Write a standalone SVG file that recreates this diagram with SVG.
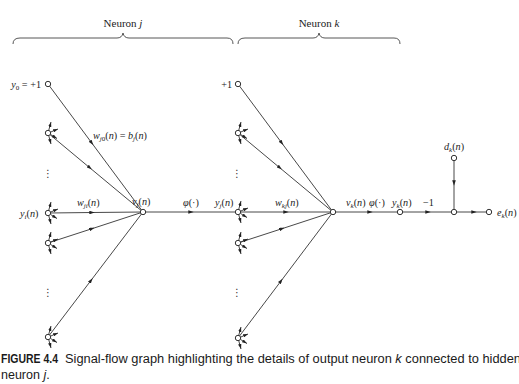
<svg xmlns="http://www.w3.org/2000/svg" width="519" height="384" viewBox="0 0 519 384">
<style>
.t{font-family:"Liberation Serif","Times New Roman",serif;font-size:11px;fill:#222}
.m{font-family:"Liberation Serif","Times New Roman",serif;font-size:10.2px;fill:#222}
.i{font-style:italic}
.s{font-size:7px}
.c{stroke:#333;stroke-width:0.9;fill:none}
.n{fill:#fff;stroke:#333;stroke-width:1}
.b{stroke:#444;stroke-width:0.9;fill:none}
.cap{font-family:"Liberation Sans",Arial,sans-serif;font-size:12.5px;fill:#1a1a1a}
.dots{font-family:"DejaVu Sans",sans-serif;font-size:10px;fill:#333}
</style>
<defs>
<marker id="a" viewBox="0 0 6 4" refX="3" refY="2" markerWidth="5.5" markerHeight="3.6" markerUnits="userSpaceOnUse" orient="auto"><path d="M0,0 L6,2 L0,4 z" fill="#222"/></marker>
<marker id="e" viewBox="0 0 6 4" refX="6" refY="2" markerWidth="5" markerHeight="3.4" markerUnits="userSpaceOnUse" orient="auto"><path d="M0,0 L6,2 L0,4 z" fill="#222"/></marker>
<g id="fan">
<path class="c" marker-end="url(#e)" d="M0.8,-2.9 L3,-11"/>
<path class="c" marker-end="url(#e)" d="M2.8,-1 L10,-4"/>
<path class="c" marker-end="url(#e)" d="M2.6,1.5 L9,5.5"/>
<path class="c" marker-end="url(#e)" d="M0.8,2.9 L3,11"/>
</g>
</defs>

<g id="braces">
<path class="b" d="M13,44 Q13,38 20,38 L117,38 Q122,38 123,33 Q124,38 129,38 L227,38 Q233,38 233,44"/>
<path class="b" d="M238,44 Q238,38 245,38 L313,38 Q318,38 319,33 Q320,38 325,38 L394,38 Q400,38 400,44"/>
<text class="t" x="123" y="27" text-anchor="middle">Neuron <tspan class="i">j</tspan></text>
<text class="t" x="319" y="27" text-anchor="middle">Neuron <tspan class="i">k</tspan></text>
</g>

<g id="connectors">
<path class="c" marker-mid="url(#a)" d="M48,84 L91.7,142.9 L143,212"/>
<path class="c" marker-mid="url(#a)" d="M48,133 L89.8,167.8 L143,212"/>
<path class="c" marker-mid="url(#a)" d="M48,213 L92,212.5 L143,212"/>
<path class="c" marker-mid="url(#a)" d="M48,243 L92,228.7 L143,212"/>
<path class="c" marker-mid="url(#a)" d="M48,337 L91,280.4 L143,212"/>
<path class="c" marker-mid="url(#a)" d="M143,212 L191,212 L238,212"/>
<path class="c" marker-mid="url(#a)" d="M238,84 L281.7,142.9 L333,212"/>
<path class="c" marker-mid="url(#a)" d="M238,133 L279.8,167.8 L333,212"/>
<path class="c" marker-mid="url(#a)" d="M238,212 L286,212 L333,212"/>
<path class="c" marker-mid="url(#a)" d="M238,243 L282,228.7 L333,212"/>
<path class="c" marker-mid="url(#a)" d="M238,338 L281,281 L333,212"/>
<path class="c" marker-mid="url(#a)" d="M333,212 L370,212 L400,212"/>
<path class="c" marker-mid="url(#a)" d="M400,212 L428,212 L454,212"/>
<path class="c" marker-mid="url(#a)" d="M454,212 L474,212 L489,212"/>
<path class="c" marker-mid="url(#a)" d="M454,158 L454,183 L454,212"/>
<use href="#fan" x="48" y="133"/>
<use href="#fan" x="48" y="213"/>
<use href="#fan" x="48" y="243"/>
<use href="#fan" x="48" y="337"/>
<use href="#fan" x="238" y="133"/>
<use href="#fan" x="238" y="212"/>
<use href="#fan" x="238" y="243"/>
<use href="#fan" x="238" y="338"/>
</g>

<g id="node-y0"><circle class="n" cx="48" cy="84" r="2.7"/>
<text class="m" x="41" y="88" text-anchor="end"><tspan class="i">y</tspan><tspan class="s" dy="2">0</tspan><tspan dy="-2"> = +1</tspan></text></g>
<g id="node-j2"><circle class="n" cx="48" cy="133" r="2.7"/></g>
<g id="dots-j1"><text class="dots" x="48" y="177" text-anchor="middle">⋮</text></g>
<g id="node-yi"><circle class="n" cx="48" cy="213" r="2.7"/>
<text class="m" x="20" y="217"><tspan class="i">y</tspan><tspan class="s i" dy="2">i</tspan><tspan dy="-2">(</tspan><tspan class="i">n</tspan>)</text></g>
<g id="node-j4"><circle class="n" cx="48" cy="243" r="2.7"/></g>
<g id="dots-j2"><text class="dots" x="48" y="296" text-anchor="middle">⋮</text></g>
<g id="node-j5"><circle class="n" cx="48" cy="337" r="2.7"/></g>

<g id="node-vj"><circle class="n" cx="143" cy="212" r="2.7"/>
<text class="m" x="132" y="205"><tspan class="i">v</tspan><tspan class="s i" dy="2">j</tspan><tspan dy="-2">(</tspan><tspan class="i">n</tspan>)</text></g>

<g id="node-yj"><circle class="n" cx="238" cy="212" r="2.7"/>
<text class="m" x="215" y="206"><tspan class="i">y</tspan><tspan class="s i" dy="2">j</tspan><tspan dy="-2">(</tspan><tspan class="i">n</tspan>)</text></g>

<g id="node-k1"><circle class="n" cx="238" cy="84" r="2.7"/>
<text class="m" x="232" y="88" text-anchor="end">+1</text></g>
<g id="node-k2"><circle class="n" cx="238" cy="133" r="2.7"/></g>
<g id="dots-k1"><text class="dots" x="237" y="177" text-anchor="middle">⋮</text></g>
<g id="node-k4"><circle class="n" cx="238" cy="243" r="2.7"/></g>
<g id="dots-k2"><text class="dots" x="237" y="296" text-anchor="middle">⋮</text></g>
<g id="node-k5"><circle class="n" cx="238" cy="338" r="2.7"/></g>

<g id="node-vk"><circle class="n" cx="333" cy="212" r="2.7"/>
<text class="m" x="346" y="206"><tspan class="i">v</tspan><tspan class="s i" dy="2">k</tspan><tspan dy="-2">(</tspan><tspan class="i">n</tspan>)</text></g>
<g id="node-yk"><circle class="n" cx="400" cy="212" r="2.7"/>
<text class="m" x="392" y="206"><tspan class="i">y</tspan><tspan class="s i" dy="2">k</tspan><tspan dy="-2">(</tspan><tspan class="i">n</tspan>)</text></g>
<g id="node-sum"><circle class="n" cx="454" cy="212" r="2.7"/></g>
<g id="node-dk"><circle class="n" cx="454" cy="158" r="2.7"/>
<text class="m" x="454" y="150" text-anchor="middle"><tspan class="i">d</tspan><tspan class="s i" dy="2">k</tspan><tspan dy="-2">(</tspan><tspan class="i">n</tspan>)</text></g>
<g id="node-ek"><circle class="n" cx="489" cy="212" r="2.7"/>
<text class="m" x="497" y="216"><tspan class="i">e</tspan><tspan class="s i" dy="2">k</tspan><tspan dy="-2">(</tspan><tspan class="i">n</tspan>)</text></g>

<g id="labels">
<text class="m" x="93" y="139"><tspan class="i">w</tspan><tspan class="s i" dy="2">j</tspan><tspan class="s">0</tspan><tspan dy="-2">(</tspan><tspan class="i">n</tspan>) = <tspan class="i">b</tspan><tspan class="s i" dy="2">j</tspan><tspan dy="-2">(</tspan><tspan class="i">n</tspan>)</text>
<text class="m" x="77" y="206"><tspan class="i">w</tspan><tspan class="s i" dy="2">ji</tspan><tspan dy="-2">(</tspan><tspan class="i">n</tspan>)</text>
<text class="m" x="183" y="206"><tspan class="i">φ</tspan>(·)</text>
<text class="m" x="275" y="206"><tspan class="i">w</tspan><tspan class="s i" dy="2">kj</tspan><tspan dy="-2">(</tspan><tspan class="i">n</tspan>)</text>
<text class="m" x="369" y="206"><tspan class="i">φ</tspan>(·)</text>
<text class="m" x="423" y="206">−1</text>
</g>

<g id="caption">
<text class="cap" x="1" y="363" font-weight="bold" textLength="57" lengthAdjust="spacingAndGlyphs">FIGURE 4.4</text>
<text class="cap" x="65" y="363" textLength="456" lengthAdjust="spacingAndGlyphs">Signal-flow graph highlighting the details of output neuron <tspan font-style="italic">k</tspan> connected to hidden</text>
<text class="cap" x="1" y="379">neuron <tspan font-style="italic">j</tspan>.</text>
</g>
</svg>
